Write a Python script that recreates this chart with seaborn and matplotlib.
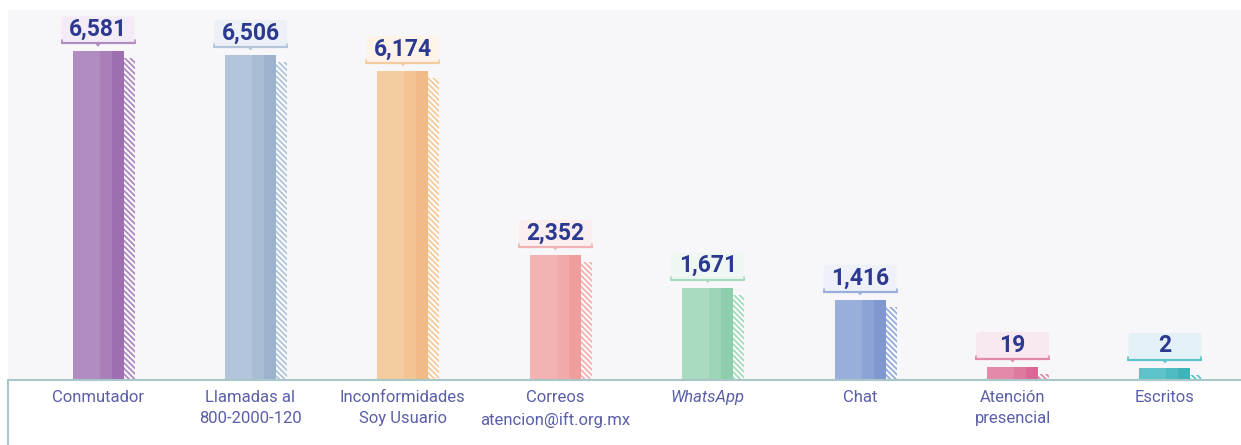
import matplotlib
matplotlib.use("Agg")
import matplotlib.pyplot as plt
import seaborn as sns
import numpy as np
import pandas as pd
from matplotlib.patches import FancyBboxPatch, Polygon
from matplotlib.lines import Line2D

categories = ["Conmutador", "Llamadas al\n800-2000-120", "Inconformidades\nSoy Usuario",
              "Correos\natencion@ift.org.mx", "WhatsApp", "Chat", "Atención\npresencial", "Escritos"]
values = [6581, 6506, 6174, 2352, 1671, 1416, 19, 2]
value_labels = ["6,581", "6,506", "6,174", "2,352", "1,671", "1,416", "19", "2"]
colors = ["#b18cc1", "#b3c5da", "#f5cca0", "#f4b3b3", "#a8dbbf", "#9aaedb", "#e38aab", "#5cc3c9"]
darks = ["#9e6fb0", "#9db3cd", "#f0bb86", "#ef9e9e", "#8fceac", "#7f98cf", "#d96a95", "#3fb3ba"]
mids = ["#a97fb9", "#a8bcd4", "#f3c493", "#f2a9a9", "#9dd5b6", "#8ca3d5", "#de7aa0", "#4ebbc1"]
tints = ["#f3ecf6", "#edf1f7", "#fdf3e8", "#fbeeee", "#eef7f2", "#eef1f9", "#f8e8ef", "#e4f1f6"]

sns.set_theme(style="white")
plt.rcParams['font.family'] = ['Roboto', 'DejaVu Sans']
plt.rcParams['hatch.linewidth'] = 1.4

W, H = 1241, 445
fig = plt.figure(figsize=(W / 100, H / 100), dpi=100)
ax_left, ax_right, ax_top, ax_bottom = 8, 1241, 10, 380
ax = fig.add_axes([ax_left / W, (H - ax_bottom) / H, (ax_right - ax_left) / W, (ax_bottom - ax_top) / H])
ax.set_facecolor("#f7f7fa")

offset = 250  # visual minimum bar height (units)
ymin, ymax = -offset, 7440
upp = (ymax - ymin) / (ax_bottom - ax_top)  # units per pixel
spacing = 152.4
xl = -(98 - ax_left) / spacing
xr = 7 + (ax_right - 1165) / spacing
upx = (xr - xl) / (ax_right - ax_left)

x = np.arange(len(categories))
df = pd.DataFrame({"cat": categories, "val": np.array(values) + offset})
solid_w = 51 * upx
sns.barplot(data=df, x="cat", y="val", hue="cat", palette=colors, legend=False,
            width=solid_w, bottom=ymin, ax=ax, saturation=1, linewidth=0)
for i, v in enumerate(values):
    left = i - solid_w / 2
    ax.bar(left + 27 * upx, v + offset, width=12 * upx, bottom=ymin, align="edge", color=mids[i], linewidth=0, zorder=3)
    ax.bar(left + 39 * upx, v + offset, width=12 * upx, bottom=ymin, align="edge", color=darks[i], linewidth=0, zorder=3)
    hh = max(v + offset - 7 * upp, 2 * upp)
    ax.bar(left + 51 * upx, hh, width=11 * upx, bottom=ymin, align="edge", color="white",
           edgecolor=colors[i], hatch="\\\\\\\\\\\\", linewidth=0, zorder=3)
    # label box
    bw, bh = 73 * upx, 27 * upp
    by = v + 8 * upp
    box = FancyBboxPatch((i - bw / 2, by), bw, bh, boxstyle="round,pad=0,rounding_size=0.02",
                         mutation_aspect=upp / upx, facecolor=tints[i], edgecolor="none", zorder=4)
    ax.add_patch(box)
    ax.plot([i - bw / 2, i + bw / 2], [by, by], color=colors[i], lw=1.6, zorder=5, solid_capstyle="round")
    ax.plot([i - bw / 2, i - bw / 2], [by, by + 3 * upp], color=colors[i], lw=1.2, zorder=5)
    ax.plot([i + bw / 2, i + bw / 2], [by, by + 3 * upp], color=colors[i], lw=1.2, zorder=5)
    tri = Polygon([[i - 3 * upx, by], [i + 3 * upx, by], [i, by - 3.5 * upp]], closed=True,
                  facecolor=colors[i], edgecolor="none", zorder=5)
    ax.add_patch(tri)
    ax.text(i, by + bh / 2 + 0.5 * upp, value_labels[i], ha="center", va="center", fontsize=16.5,
            fontweight="bold", color="#2b3990", zorder=6)

ax.set_xlim(xl, xr)
ax.set_ylim(ymin, ymax)
ax.set_xticks(x)
ax.set_xticklabels(categories, fontsize=12, color="#5a5fa8", linespacing=1.55)
for i, t in enumerate(ax.get_xticklabels()):
    if categories[i] == "WhatsApp":
        t.set_style("italic")
ax.tick_params(axis="x", length=0, pad=7)
ax.set_yticks([])
ax.set_xlabel("")
ax.set_ylabel("")
for s in ax.spines.values():
    s.set_visible(False)

line_c = "#a9c6c8"
fig.add_artist(Line2D([8 / W, 1], [(H - 380) / H] * 2, color=line_c, lw=1.5, transform=fig.transFigure))
fig.add_artist(Line2D([8 / W, 8 / W], [0, (H - 380) / H], color=line_c, lw=1.5, transform=fig.transFigure))

fig.savefig("out.png", dpi=100, facecolor="white")
